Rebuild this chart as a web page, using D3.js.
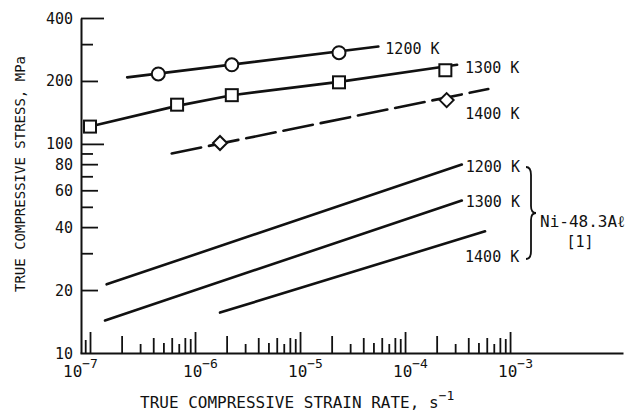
<!DOCTYPE html>
<html><head><meta charset="utf-8">
<script src="https://cdn.jsdelivr.net/npm/d3@7"></script>
<style>
body{margin:0;background:#fff}
text{font-family:"DejaVu Sans Mono",monospace;fill:#111}
</style>
</head><body>
<svg id="c" width="633" height="416"></svg>
<script>
// ---- data ----
// Upper family (markers = experiments, lines = drawn trend)
const mk1200x = [4.47e-7, 2.24e-6, 2.35e-5];
const mk1200y = [216, 239, 273];
const ln1200x = [2.26e-7, 5.57e-5];
const ln1200y = [208, 292];

const mk1300x = [1e-7, 6.75e-7, 2.24e-6, 2.35e-5, 2.42e-4];
const mk1300y = [121, 154, 171, 197, 225];
const ln1300x = [1e-7, 6.75e-7, 2.24e-6, 2.35e-5, 3.13e-4];
const ln1300y = [121, 152, 171, 198, 239];

const mk1400x = [1.73e-6, 2.49e-4];
const mk1400y = [101, 162];
const ln1400x = [6.0e-7, 6.2e-4];
const ln1400y = [90, 183];

// Ni-48.3Al [1] lines
const niA_x = [1.44e-7, 3.47e-4], niA_y = [21.3, 79.7];   // 1200 K
const niB_x = [1.39e-7, 3.47e-4], niB_y = [14.3, 53.6];   // 1300 K
const niC_x = [1.73e-6, 5.78e-4], niC_y = [15.6, 38.2];   // 1400 K

// axis ticks / labels
const yTickVals = [20,30,40,50,60,70,80,90,100,200,300,400];
const yLabelVals = [10,20,40,60,80,100,200,400];
const xLabelExps = [-7,-6,-5,-4,-3];
const xMantissas = [1,2,3,4,5,6,7,8,9];
const xDecades = [-7,-6,-5,-4];

// ---- drawing ----
const svg = d3.select('#c');
const x = d3.scaleLog().domain([8.03e-8, 1.19e-2]).range([80, 623]);
const y = d3.scaleLog().domain([10, 400]).range([353, 18]);

// x ticks
let xTickVals = [9e-8];
xDecades.forEach(e => xMantissas.forEach(m => xTickVals.push(m * Math.pow(10, e))));
xTickVals.push(1e-3);
const mantLen = {1:21,2:17,3:9,4:15,5:10,6:15,7:9,8:15,9:14};
const mant = d => Math.round(d / Math.pow(10, Math.floor(Math.log10(d) + 1e-9)));

const gx = svg.append('g').attr('transform','translate(0,353)')
  .call(d3.axisBottom(x).tickValues(xTickVals).tickSize(0).tickSizeOuter(0).tickFormat(''));
gx.select('.domain').attr('stroke','#111').attr('stroke-width',2);
gx.selectAll('.tick line').attr('stroke','#111').attr('stroke-width',1.8)
  .attr('y2', d => -(d < 1e-7 ? 13 : mantLen[mant(d)]));

// x labels
xLabelExps.forEach((e,i) => {
  const px = x(Math.pow(10,e)) + (i === 0 ? -27 : -12);
  const t = svg.append('text').attr('x', px).attr('y', 377).attr('font-size', 16);
  t.append('tspan').text('10');
  t.append('tspan').attr('font-size', 13).attr('dy', -9).text('\u2212' + Math.abs(e));
});

// y axis
const gy = svg.append('g').attr('transform','translate(81,0)')
  .call(d3.axisLeft(y).tickValues(yTickVals).tickSize(0).tickSizeOuter(0).tickFormat(''));
gy.select('.domain').attr('stroke','#111').attr('stroke-width',2);
gy.selectAll('.tick line').attr('stroke','#111').attr('stroke-width',1.8)
  .attr('x2', d => (d === 100 || d === 400) ? 23 : (yLabelVals.includes(d) ? 17 : 12));

yLabelVals.forEach(v => {
  svg.append('text').attr('x', 73).attr('y', y(v) + 5.5).attr('text-anchor','end')
    .attr('font-size', 15).text(v);
});

// axis titles
const xt = svg.append('text').attr('x', 140).attr('y', 408).attr('font-size', 16);
xt.append('tspan').text('TRUE COMPRESSIVE STRAIN RATE, s');
xt.append('tspan').attr('font-size', 13).attr('dy', -8).text('\u22121');

svg.append('text').attr('transform','translate(25,174) rotate(-90)')
  .attr('text-anchor','middle').attr('font-size', 14).text('TRUE COMPRESSIVE STRESS, MPa');

// lines
const zip = (xs, ys) => xs.map((v,i) => [v, ys[i]]);
const line = d3.line().x(d => x(d[0])).y(d => y(d[1]));
const drawLine = (pts, dash) => svg.append('path').attr('d', line(pts))
  .attr('fill','none').attr('stroke','#111').attr('stroke-width',2.6)
  .attr('stroke-linecap','round').attr('stroke-linejoin','round')
  .attr('stroke-dasharray', dash || null);

drawLine(zip(ln1200x, ln1200y));
drawLine(zip(ln1300x, ln1300y));
drawLine(zip(ln1400x, ln1400y), '30,8');
drawLine(zip(niA_x, niA_y));
drawLine(zip(niB_x, niB_y));
drawLine(zip(niC_x, niC_y));

// markers
zip(mk1200x, mk1200y).forEach(d => svg.append('circle')
  .attr('cx', x(d[0])).attr('cy', y(d[1])).attr('r', 6.5)
  .attr('fill','#fff').attr('stroke','#111').attr('stroke-width',2));
zip(mk1300x, mk1300y).forEach(d => svg.append('rect')
  .attr('x', x(d[0]) - 6).attr('y', y(d[1]) - 6).attr('width', 12).attr('height', 12)
  .attr('fill','#fff').attr('stroke','#111').attr('stroke-width',2));
zip(mk1400x, mk1400y).forEach(d => {
  const cx = x(d[0]), cy = y(d[1]), r = 7;
  svg.append('path').attr('d', `M${cx},${cy-r}L${cx+r},${cy}L${cx},${cy+r}L${cx-r},${cy}Z`)
    .attr('fill','#fff').attr('stroke','#111').attr('stroke-width',2);
});

// series labels (anchored to line ends)
const lab = (xs, ys, dx, dy, txt) => svg.append('text')
  .attr('x', x(xs[xs.length-1]) + dx).attr('y', y(ys[ys.length-1]) + dy)
  .attr('font-size', 15).text(txt);
lab(ln1200x, ln1200y, 7, 7, '1200 K');
lab(ln1300x, ln1300y, 8, 8, '1300 K');
lab(ln1400x, ln1400y, -23, 30, '1400 K');
lab(niA_x, niA_y, 4, 8, '1200 K');
lab(niB_x, niB_y, 4, 6, '1300 K');
lab(niC_x, niC_y, -20, 31, '1400 K');

// brace and material label
svg.append('path')
  .attr('d','M526,167 Q531,167 531,175 L531,206 Q531,213 536,213 Q531,213 531,220 L531,251 Q531,259 526,259')
  .attr('fill','none').attr('stroke','#111').attr('stroke-width',1.8);
svg.append('text').attr('x', 540).attr('y', 227).attr('font-size', 16).text('Ni-48.3A\u2113');
svg.append('text').attr('x', 580).attr('y', 247).attr('font-size', 15).attr('text-anchor','middle').text('[1]');
</script>
</body></html>
